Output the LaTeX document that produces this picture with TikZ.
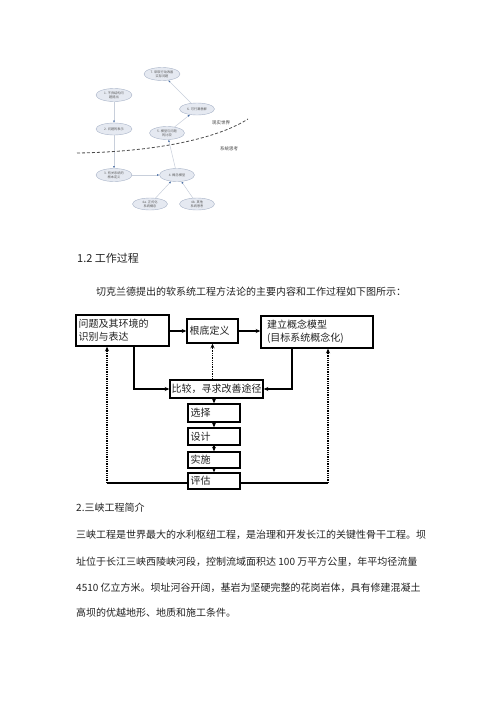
\documentclass[tikz,border=0pt]{standalone}
\usepackage{fontspec}
\setmainfont{Noto Sans CJK SC}
\usetikzlibrary{shapes.geometric,arrows.meta}
\definecolor{ellfill}{HTML}{E5E9F1}
\definecolor{elldraw}{HTML}{A9B4C8}
\definecolor{edgecol}{HTML}{C8CFDB}
\definecolor{tipcol}{HTML}{4A6FA5}
\definecolor{txt}{HTML}{222222}
\begin{document}
\begin{tikzpicture}[x=1pt,y=-1pt,
  ell/.style={ellipse,draw=elldraw,fill=ellfill,line width=0.4pt,inner sep=0pt,
    minimum width=36pt,minimum height=13pt,align=center,text=black!65,
    font=\fontsize{3.2}{4}\selectfont},
  sedge/.style={draw=edgecol,line width=0.5pt,-{Latex[length=2.2pt,width=2pt,color=tipcol]}},
  lbl/.style={font=\fontsize{4.5}{5}\selectfont,text=black!75},
  fbox/.style={draw,line width=1.5pt,fill=white,inner xsep=2.5pt,inner ysep=0pt,
    align=left,font=\fontsize{10}{13}\selectfont,text=txt},
  fl/.style={line width=1.3pt,-{Stealth[length=4.5pt,width=4pt]}},
  dl/.style={line width=1.3pt,densely dotted,-{Stealth[length=4.5pt,width=4pt]}},
  para/.style={anchor=west,font=\fontsize{10}{12}\selectfont,text=txt,inner sep=0pt},
]
\useasboundingbox (0,0) rectangle (500,707);
\fill[white] (0,0) rectangle (500,707);

% ---------- top SSM diagram ----------
\node[ell] (n7) at (162,74) {7. 采取行动改善\\实际问题};
\node[ell] (n1) at (114,95) {1. 不良结构问\\题提出};
\node[ell,minimum width=35pt,minimum height=12pt] (n6) at (197,109) {6. 可行满意解};
\node[ell,minimum height=12pt] (n2) at (114,129) {2. 问题的表示};
\node[ell,minimum width=35pt] (n5) at (167,133) {5. 模型与问题\\的比较};
\node[ell] (n3) at (114,175) {3. 有关系统的\\根本定义};
\node[ell,minimum width=35pt] (n4) at (177,175) {4. 概念模型};
\node[ell,minimum width=35pt,minimum height=12pt] (n4a) at (150,204) {4a. 正式化\\系统概念};
\node[ell,minimum width=35pt,minimum height=12pt] (n4b) at (197,204) {4b. 其他\\系统思考};

\draw[sedge] (n1) -- (n2);
\draw[sedge] (n2) -- (n3);
\draw[sedge] (n3) -- (n4);
\draw[sedge] (n4) -- (n5);
\draw[sedge] (n5) -- (n6);
\draw[sedge] (n6) -- (n7);
\draw[sedge] (n4a) -- (n4);
\draw[sedge] (n4b) -- (n4);

\draw[densely dashed,line width=0.8pt,black!70] (77,153) .. controls (150,152) and (215,140) .. (248,119);
\node[lbl] (rw) at (221,123) {现实世界};
\node[lbl] (st) at (229,149) {系统思考};

% ---------- heading ----------
\node[para,font=\fontsize{11}{13}\selectfont] (h12) at (77,258) {1.2 工作过程};
\node[para] (p1) at (96,292) {切克兰德提出的软系统工程方法论的主要内容和工作过程如下图所示：};

% ---------- flowchart ----------
\coordinate (L) at (107,483);
\coordinate (R) at (328,483);
\draw[line width=1.3pt] (L) -- (R);

\node[fbox,text width=88pt,minimum height=31pt] (A) at (122.5,330.5) {问题及其环境的\\识别与表达};
\node[fbox,text width=46pt,minimum height=24pt] (B) at (212.5,331) {根底定义};
\node[fbox,inner xsep=6pt,text width=100pt,minimum height=32pt] (C) at (317,332) {建立概念模型\\(目标系统概念化)};
\node[fbox,inner xsep=1.5pt,text width=90pt,minimum height=18pt] (D) at (216.5,389) {比较，寻求改善途径};
\node[fbox,text width=47pt,minimum height=18pt] (S1) at (214,413) {选择};
\node[fbox,text width=47pt,minimum height=17pt] (S2) at (214,436.5) {设计};
\node[fbox,text width=47pt,minimum height=16pt] (S3) at (214,460) {实施};
\node[fbox,text width=47pt,minimum height=16pt] (S4) at (214,481) {评估};

\draw[fl] (A.east |- B.west) -- (B.west);
\draw[fl] (B.east) -- (C.west |- B.east);
\draw[fl] ([xshift=11.5pt]A.south) |- (D.west);
\draw[fl] ([xshift=-25pt]C.south) |- (D.east);
\draw[dl] (B.south |- D.north) -- (B.south);
\draw[fl] (S1.north |- D.south) -- (S1.north);
\draw[fl] (S1) -- (S2);
\draw[fl] (S2) -- (S3);
\draw[fl] (S3) -- (S4);
\draw[dl] (L) -- (L |- A.south);
\draw[dl] (R) -- (R |- C.south);

% ---------- section 2 ----------
\node[para] (h2) at (76,508) {2.三峡工程简介};
\node[para] (q1) at (76,535) {三峡工程是世界最大的水利枢纽工程，是治理和开发长江的关键性骨干工程。坝};
\node[para] (q2) at (76,562) {址位于长江三峡西陵峡河段，控制流域面积达 100 万平方公里，年平均径流量};
\node[para] (q3) at (76,588) {4510 亿立方米。坝址河谷开阔，基岩为坚硬完整的花岗岩体，具有修建混凝土};
\node[para] (q4) at (76,613) {高坝的优越地形、地质和施工条件。};
\end{tikzpicture}
\end{document}
